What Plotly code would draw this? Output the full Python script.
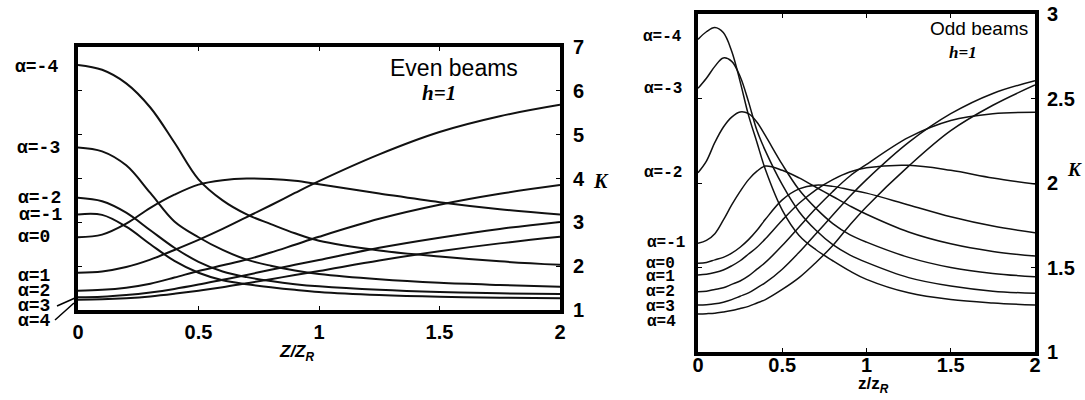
import plotly.graph_objects as go

W, H = 1085, 400

# ---------------- data: left panel (Even beams) ----------------
z_even = [0, 0.1, 0.2, 0.3, 0.4, 0.5, 0.6, 0.7, 0.8, 0.9, 1.0, 1.25, 1.5, 1.75, 2.0]
even_m4 = [6.59, 6.48, 6.17, 5.62, 4.82, 3.98, 3.50, 3.18, 2.96, 2.75, 2.58, 2.36, 2.22, 2.11, 2.03]
even_m3 = [4.71, 4.62, 4.30, 3.67, 3.02, 2.66, 2.37, 2.15, 2.01, 1.90, 1.82, 1.70, 1.62, 1.57, 1.53]
even_m2 = [3.56, 3.48, 3.22, 2.82, 2.42, 2.10, 1.88, 1.75, 1.66, 1.59, 1.54, 1.46, 1.41, 1.38, 1.365]
even_m1 = [3.18, 3.17, 2.90, 2.50, 2.12, 1.85, 1.68, 1.59, 1.52, 1.46, 1.41, 1.34, 1.30, 1.28, 1.27]
even_0 = [2.66, 2.72, 2.97, 3.33, 3.63, 3.86, 3.96, 4.00, 3.99, 3.95, 3.87, 3.66, 3.46, 3.30, 3.18]
even_p1 = [1.85, 1.88, 1.98, 2.15, 2.37, 2.60, 2.85, 3.12, 3.39, 3.67, 3.94, 4.55, 5.06, 5.42, 5.68]
even_p2 = [1.44, 1.46, 1.51, 1.60, 1.74, 1.89, 2.02, 2.15, 2.31, 2.49, 2.67, 3.08, 3.40, 3.65, 3.85]
even_p3 = [1.29, 1.30, 1.34, 1.40, 1.48, 1.58, 1.69, 1.80, 1.92, 2.03, 2.14, 2.42, 2.65, 2.85, 3.01]
even_p4 = [1.235, 1.245, 1.27, 1.31, 1.37, 1.44, 1.52, 1.61, 1.70, 1.80, 1.89, 2.13, 2.34, 2.52, 2.67]

# ---------------- data: right panel (Odd beams) ----------------
z_odd = [0, 0.05, 0.1, 0.15, 0.2, 0.25, 0.3, 0.35, 0.4, 0.5, 0.6, 0.7, 0.8, 0.9, 1.0, 1.25, 1.5, 1.75, 2.0]
odd_m4 = [2.85, 2.895, 2.92, 2.89, 2.78, 2.60, 2.40, 2.24, 2.08, 1.84, 1.69, 1.605, 1.54, 1.48, 1.43, 1.35, 1.31, 1.29, 1.278]
odd_m3 = [2.56, 2.62, 2.69, 2.74, 2.72, 2.63, 2.48, 2.31, 2.19, 1.99, 1.83, 1.72, 1.635, 1.575, 1.53, 1.44, 1.39, 1.36, 1.347]
odd_m2 = [2.061, 2.13, 2.24, 2.33, 2.39, 2.42, 2.41, 2.36, 2.28, 2.11, 1.96, 1.85, 1.76, 1.695, 1.65, 1.56, 1.50, 1.465, 1.445]
odd_m1 = [1.643, 1.66, 1.70, 1.78, 1.87, 1.95, 2.02, 2.07, 2.10, 2.075, 2.03, 1.975, 1.92, 1.865, 1.815, 1.71, 1.64, 1.595, 1.568]
odd_0 = [1.525, 1.53, 1.545, 1.56, 1.585, 1.62, 1.665, 1.72, 1.785, 1.90, 1.965, 1.987, 1.98, 1.96, 1.94, 1.87, 1.80, 1.745, 1.706]
odd_p1 = [1.456, 1.46, 1.47, 1.485, 1.51, 1.54, 1.58, 1.62, 1.67, 1.78, 1.88, 1.96, 2.02, 2.065, 2.09, 2.105, 2.075, 2.03, 1.994]
odd_p2 = [1.357, 1.36, 1.37, 1.38, 1.40, 1.42, 1.45, 1.49, 1.53, 1.63, 1.74, 1.85, 1.95, 2.04, 2.11, 2.27, 2.37, 2.41, 2.418]
odd_p3 = [1.278, 1.28, 1.285, 1.295, 1.31, 1.33, 1.35, 1.38, 1.41, 1.49, 1.59, 1.70, 1.81, 1.92, 2.02, 2.24, 2.41, 2.53, 2.605]
odd_p4 = [1.225, 1.227, 1.23, 1.237, 1.245, 1.257, 1.27, 1.29, 1.31, 1.37, 1.44, 1.53, 1.63, 1.75, 1.86, 2.10, 2.31, 2.46, 2.58]

alpha_labels = ["α=-4", "α=-3", "α=-2", "α=-1", "α=0", "α=1", "α=2", "α=3", "α=4"]
even_series = [even_m4, even_m3, even_m2, even_m1, even_0, even_p1, even_p2, even_p3, even_p4]
odd_series = [odd_m4, odd_m3, odd_m2, odd_m1, odd_0, odd_p1, odd_p2, odd_p3, odd_p4]

x_ticks = [0, 0.5, 1, 1.5, 2]
x_ticktext = ["0", "0.5", "1", "1.5", "2"]
even_y_ticks = [1, 2, 3, 4, 5, 6, 7]
odd_y_ticks = [1, 1.5, 2, 2.5, 3]
odd_y_ticktext = ["1", "1.5", "2", "2.5", "3"]

fig = go.Figure()
for name, ys in zip(alpha_labels, even_series):
    fig.add_trace(go.Scatter(x=z_even, y=ys, mode="lines", name=name,
                             line=dict(color="#111", width=2, shape="spline", smoothing=1.0),
                             xaxis="x", yaxis="y", hoverinfo="skip"))
for name, ys in zip(alpha_labels, odd_series):
    fig.add_trace(go.Scatter(x=z_odd, y=ys, mode="lines", name=name,
                             line=dict(color="#111", width=1.5, shape="spline", smoothing=1.0),
                             xaxis="x2", yaxis="y2", hoverinfo="skip"))


def px(x):
    return x / W


def py(y):
    return 1 - y / H


tickfont = dict(family="Liberation Sans, Arial", size=20, color="black", weight="bold")
common = dict(showline=True, linecolor="black", linewidth=4, mirror="ticks", ticks="inside",
              ticklen=4, tickwidth=1, tickcolor="black", showgrid=False, zeroline=False,
              tickfont=tickfont, automargin=False, fixedrange=True)

fig.update_layout(
    width=W, height=H, margin=dict(l=0, r=0, t=0, b=0),
    paper_bgcolor="white", plot_bgcolor="white", showlegend=False,
    xaxis=dict(domain=[px(78), px(560)], range=[0, 2], tickvals=x_ticks, ticktext=x_ticktext,
               anchor="y", ticklabelstandoff=1, **common),
    yaxis=dict(domain=[py(310), py(47)], range=[1, 7], tickvals=even_y_ticks, side="right",
               anchor="x", ticklabelstandoff=5, **common),
    xaxis2=dict(domain=[px(698), px(1035)], range=[0, 2], tickvals=x_ticks, ticktext=x_ticktext,
                anchor="y2", ticklabelstandoff=-8, **common),
    yaxis2=dict(domain=[py(352), py(14)], range=[1, 3], tickvals=odd_y_ticks, ticktext=odd_y_ticktext,
                side="right", anchor="x2", ticklabelstandoff=4, **common),
)

ann = []


def add_text(x, y, text, size, family, xanchor="center", color="black"):
    ann.append(dict(x=px(x), y=py(y), xref="paper", yref="paper", text=text, showarrow=False,
                    xanchor=xanchor, yanchor="middle",
                    font=dict(size=size, family=family, color=color)))


mono = "Liberation Mono, Courier New, monospace"
serif = "Liberation Serif, Times New Roman, serif"
sans = "Liberation Sans, Arial, sans-serif"

# left alpha labels (center positions)
left_pos = [(36, 67), (38, 148), (39, 198), (40, 215), (34, 237), (34, 276), (34, 291), (34, 306), (34, 321)]
for lab, (x, y) in zip(alpha_labels, left_pos):
    add_text(x, y, "<b>" + lab + "</b>", 18, mono)

# right alpha labels
right_pos = [(662, 37), (663, 89), (663, 173), (666, 243), (660, 264), (660, 277), (660, 292), (660, 307), (661, 322)]
for lab, (x, y) in zip(alpha_labels, right_pos):
    add_text(x, y, "<b>" + lab + "</b>", 16, mono)

add_text(454, 68, "Even beams", 23, sans)
add_text(439, 93, "<b><i>h=1</i></b>", 21, serif)
add_text(601, 181, "<b><i>K</i></b>", 20, serif)
add_text(297, 353, "<b><i>Z/Z<sub>R</sub></i></b>", 17, sans)

add_text(979, 28, "Odd beams", 19, sans)
add_text(963, 52, "<b><i>h=1</i></b>", 17, serif)
add_text(1074, 169, "<b><i>K</i></b>", 19, serif)
add_text(873, 385, "<b>z/z<sub><i>R</i></sub></b>", 17, sans)

fig.update_layout(annotations=ann)

# leader lines for alpha=3 and alpha=4 labels (left panel)
shapes = [
    dict(type="line", xref="paper", yref="paper", x0=px(57), y0=py(306), x1=px(75), y1=py(298),
         line=dict(color="black", width=1.5)),
    dict(type="line", xref="paper", yref="paper", x0=px(55), y0=py(320), x1=px(74), y1=py(303),
         line=dict(color="black", width=1.5)),
]
fig.update_layout(shapes=shapes)

fig.write_html("out.html")
